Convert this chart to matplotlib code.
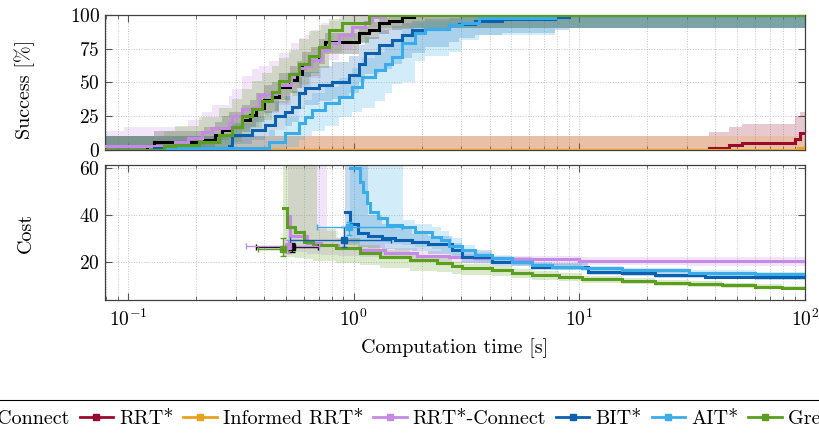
import numpy as np
import matplotlib
matplotlib.use("Agg")
import matplotlib.pyplot as plt
from matplotlib.lines import Line2D
from matplotlib.ticker import LogLocator

plt.rcParams['font.family'] = ['cmr10', 'DejaVu Serif']
plt.rcParams['mathtext.fontset'] = 'cm'
plt.rcParams['axes.formatter.use_mathtext'] = True
plt.rcParams['axes.unicode_minus'] = False

# ---------------- data ----------------
labels = ["RRT-Connect", "RRT*", "Informed RRT*", "RRT*-Connect", "BIT*", "AIT*", "Greedy RRT*"]
colors = ["#000000", "#990a2c", "#e8a21e", "#c48ae6", "#0b60b0", "#3aacea", "#5c9f1e"]
T_MAX = 100.0

# success [%]: times, median, lower and upper band
s_rrtc_t = [0.079, 0.121, 0.130, 0.218, 0.242, 0.260, 0.280, 0.319, 0.346, 0.371, 0.399, 0.433, 0.465, 0.520, 0.560, 0.588, 0.650, 0.700, 0.744, 1.052, 1.166, 1.290, 1.430, 1.630, 1.860]
s_rrtc_m = [0, 2.5, 6, 7, 11, 15, 17, 22, 26, 31, 37, 39, 47, 52, 56, 64, 67, 74, 80, 86.5, 89, 94, 96, 98.5, 100]
s_rrtc_h = [10, 10, 14, 17, 21, 25, 28, 33, 37, 42, 48, 50, 57, 62, 66, 73, 76, 82, 87, 92, 95, 98, 99, 100, 100]
s_rrtc_l = [0, 0, 1, 2, 4, 7, 9, 13, 17, 21, 27, 29, 37, 42, 46, 54, 57, 64, 71, 79, 82, 86, 89, 90, 90.5]

s_rrts_t = [0.079, 37.5, 46.0, 52.7, 90.3, 95.0]
s_rrts_m = [0, 1.7, 3.7, 5.4, 8, 12.3]
s_rrts_h = [10, 13.6, 17, 19.5, 25, 28]
s_rrts_l = [0, 0, 0, 0, 0, 0]

s_inf_t = [0.079, 93.0]
s_inf_m = [0, 1]
s_inf_h = [10, 10]
s_inf_l = [0, 0]

s_rsc_t = [0.079, 0.096, 0.161, 0.185, 0.212, 0.235, 0.280, 0.288, 0.319, 0.353, 0.379, 0.420, 0.465, 0.530, 0.570, 0.606, 0.650, 0.720, 0.774, 0.858, 0.980, 1.120, 1.200, 1.370]
s_rsc_m = [3, 3, 6, 9, 13, 16, 20, 25, 30, 31, 41, 42, 48, 57, 61, 62, 67, 74, 79, 85, 91, 95, 98.5, 100]
s_rsc_h = [14, 17, 17, 22, 28, 33, 40, 45, 55, 60, 62, 66, 72, 79, 83, 85, 89, 94, 96, 99, 100, 100, 100, 100]
s_rsc_l = [0, 0, 0, 1, 3, 5, 8, 12, 16, 17, 26, 27, 33, 42, 46, 47, 53, 61, 67, 74, 82, 87, 90, 90.5]

s_bit_t = [0.079, 0.131, 0.280, 0.288, 0.353, 0.403, 0.446, 0.494, 0.531, 0.570, 0.606, 0.700, 0.799, 0.950, 1.052, 1.119, 1.290, 1.474, 1.633, 1.808, 2.064, 2.637, 2.920, 3.440, 4.530, 7.790, 8.980]
s_bit_m = [0, 1.5, 3, 11, 15, 18.5, 25, 28, 32, 42, 45.7, 48, 50.6, 55.5, 64, 71.6, 77.8, 81.5, 85, 89, 90, 92.6, 93.8, 95.5, 97.5, 98.5, 100]
s_bit_h = [10, 10, 12, 20, 25, 29, 36, 40, 44, 54, 58, 62, 65, 70, 78, 84, 89, 92, 94, 96, 97, 98, 99, 100, 100, 100, 100]
s_bit_l = [0, 0, 0, 4, 7, 10, 15, 18, 21, 30, 33, 36, 38, 42, 50, 56, 60, 64, 68, 72, 76, 80, 83, 85, 87, 89, 90.5]

s_ait_t = [0.079, 0.145, 0.420, 0.494, 0.570, 0.606, 0.651, 0.744, 0.858, 0.980, 1.085, 1.239, 1.372, 1.474, 1.633, 1.865, 2.064, 2.637, 3.010, 3.580, 7.790]
s_ait_m = [0, 1.2, 5.5, 12.5, 20, 24.7, 29.6, 34.6, 39.5, 47, 54, 59, 64, 69, 79, 86.5, 90, 92.6, 94, 97.7, 100]
s_ait_h = [10, 10, 15, 24, 32, 37, 42, 47, 53, 61, 68, 73, 78, 82, 90, 94, 96, 97, 98, 99, 100]
s_ait_l = [0, 0, 0, 2, 7, 10, 14, 18, 24, 28, 31, 36, 42, 49, 50, 66, 70, 73, 81.5, 85, 90.5]

s_grd_t = [0.079, 0.145, 0.161, 0.206, 0.252, 0.288, 0.319, 0.353, 0.391, 0.433, 0.465, 0.515, 0.570, 0.631, 0.700, 0.774, 0.885, 1.166]
s_grd_m = [0, 2.5, 3.7, 6, 11, 17, 25, 30, 36, 43, 51, 56, 64, 70, 76, 89, 94, 100]
s_grd_h = [10, 14, 18, 24, 31, 38, 45, 51, 57, 62, 68, 74, 82, 88, 93, 97, 100, 100]
s_grd_l = [0, 0, 0, 0, 2, 6, 11, 16, 22, 28, 35, 40, 48, 55, 61, 72, 80, 90.5]

# cost: times, median, lower and upper band
c_rsc_t = [0.510, 0.525, 0.620, 0.720, 0.760, 0.850, 1.070, 1.370, 1.900, 2.640, 3.400, 5.000, 10.00, 30.00]
c_rsc_m = [39.7, 31.0, 28.0, 27.1, 27.1, 26.0, 25.0, 23.6, 22.6, 22.1, 21.5, 21.0, 20.5, 20.3]
c_rsc_h = [70, 70, 70, 70, 33, 30, 28, 26, 24.5, 23.5, 23, 22.5, 22, 22]
c_rsc_l = [24, 24, 23.5, 23, 23, 22.5, 22, 21, 20, 19.5, 19, 18.7, 18.5, 18.3]

c_bit_t = [0.915, 0.963, 1.049, 1.162, 1.330, 1.525, 1.808, 2.140, 2.720, 3.010, 4.090, 6.160, 10.90, 15.40, 21.60, 36.00, 60.10]
c_bit_m = [41.4, 36.0, 32.2, 31.0, 30.0, 29.3, 28.6, 27.6, 25.0, 22.1, 20.0, 17.9, 15.7, 15.0, 14.3, 13.6, 13.3]
c_bit_h = [70, 70, 70, 40, 36, 34, 32, 31, 28, 25, 22, 19.5, 17, 16.2, 15.5, 14.8, 14.5]
c_bit_l = [27, 27, 26.5, 26, 25.5, 25, 24.5, 23.5, 21.5, 19.5, 18, 16.3, 14.5, 13.8, 13.2, 12.6, 12.3]

c_ait_t = [0.963, 1.067, 1.104, 1.142, 1.181, 1.287, 1.400, 1.633, 1.660, 1.870, 2.220, 2.450, 2.640, 3.010, 3.440, 4.090, 5.010, 6.160, 7.550, 10.27, 15.40, 30.60, 60.10]
c_ait_m = [60.0, 54.3, 50.0, 45.0, 41.4, 38.6, 35.7, 35.0, 35.0, 32.8, 30.7, 29.3, 26.7, 25.0, 22.9, 21.4, 20.0, 18.6, 17.9, 17.2, 16.5, 15.3, 14.6]
c_ait_h = [70, 70, 70, 70, 70, 70, 70, 70, 38, 36, 35, 33, 30, 27, 24, 22.5, 21.2, 20, 19, 18.3, 17.5, 16.3, 15.5]
c_ait_l = [28, 28, 28, 28, 28, 28, 27.5, 27, 27, 26.5, 25.5, 24.5, 23, 21.8, 20.5, 19.3, 18.2, 17.2, 16.5, 15.9, 15.2, 14.1, 13.5]

c_grd_t = [0.488, 0.505, 0.551, 0.600, 0.660, 0.685, 0.838, 1.070, 1.310, 1.780, 2.340, 2.720, 3.010, 4.090, 5.010, 6.160, 8.100, 10.27, 15.40, 21.60, 30.60, 42.90, 60.10, 79.10]
c_grd_m = [42.9, 35.0, 32.8, 28.6, 27.2, 27.2, 25.7, 23.6, 22.1, 20.7, 19.3, 18.1, 17.2, 16.5, 15.3, 14.3, 13.6, 12.6, 11.9, 11.1, 10.5, 10.0, 9.3, 8.7]
c_grd_h = [70, 70, 70, 70, 70, 34, 30, 27, 25, 23, 21.5, 20, 19, 18, 17, 16, 15, 14, 13.2, 12.3, 11.7, 11.1, 10.4, 9.8]
c_grd_l = [22, 22, 21.5, 21, 20.5, 20.5, 19.5, 18.5, 17.5, 16, 15.5, 14.8, 14.2, 13.8, 13, 12.3, 11.7, 11, 10.5, 9.8, 9.3, 8.8, 8.2, 7.7]

# initial solutions: time median, time low, time high, cost median, cost low, cost high
init_names = ["RRT-Connect", "RRT*-Connect", "BIT*", "AIT*", "Greedy RRT*"]
init_t = [0.531, 0.510, 0.906, 0.957, 0.484]
init_t_lo = [0.371, 0.335, 0.520, 0.685, 0.378]
init_t_hi = [0.697, 0.700, 1.470, 1.630, 0.510]
init_c = [26.2, 26.9, 29.3, 34.7, 25.6]
init_c_lo = [24.3, 23.8, 26.3, 31.4, 22.4]
init_c_hi = [28.1, 29.3, 34.8, 37.1, 30.0]

success = {
    "RRT-Connect": (s_rrtc_t, s_rrtc_m, s_rrtc_l, s_rrtc_h),
    "RRT*": (s_rrts_t, s_rrts_m, s_rrts_l, s_rrts_h),
    "Informed RRT*": (s_inf_t, s_inf_m, s_inf_l, s_inf_h),
    "RRT*-Connect": (s_rsc_t, s_rsc_m, s_rsc_l, s_rsc_h),
    "BIT*": (s_bit_t, s_bit_m, s_bit_l, s_bit_h),
    "AIT*": (s_ait_t, s_ait_m, s_ait_l, s_ait_h),
    "Greedy RRT*": (s_grd_t, s_grd_m, s_grd_l, s_grd_h),
}
cost = {
    "RRT*-Connect": (c_rsc_t, c_rsc_m, c_rsc_l, c_rsc_h),
    "BIT*": (c_bit_t, c_bit_m, c_bit_l, c_bit_h),
    "AIT*": (c_ait_t, c_ait_m, c_ait_l, c_ait_h),
    "Greedy RRT*": (c_grd_t, c_grd_m, c_grd_l, c_grd_h),
}
col = dict(zip(labels, colors))

# ---------------- figure ----------------
fig = plt.figure(figsize=(8.19, 4.33), dpi=100)
ax1 = fig.add_axes([0.128, 0.654, 0.855, 0.311])
ax2 = fig.add_axes([0.128, 0.307, 0.855, 0.312], sharex=ax1)


def ext(t, *vals):
    t2 = np.append(np.asarray(t, float), T_MAX)
    return [t2] + [np.append(np.asarray(v, float), v[-1]) for v in vals]


band_alpha = 0.22
for i, name in enumerate(labels):
    t, m, lo, hi = success[name]
    tt, mm, ll, hh = ext(t, m, lo, hi)
    ax1.fill_between(tt, ll, hh, step='post', color=col[name], alpha=band_alpha, lw=0, zorder=1 + i * 0.01)
for i, name in enumerate(labels):
    t, m, lo, hi = success[name]
    tt, mm = ext(t, m)
    ax1.plot(tt, mm, drawstyle='steps-post', color=col[name], lw=2.2, zorder=3 + i * 0.01,
             solid_joinstyle='miter')

for i, name in enumerate(labels):
    if name not in cost:
        continue
    t, m, lo, hi = cost[name]
    tt, mm, ll, hh = ext(t, m, lo, hi)
    ax2.fill_between(tt, ll, hh, step='post', color=col[name], alpha=band_alpha, lw=0, zorder=1 + i * 0.01)
for i, name in enumerate(labels):
    if name not in cost:
        continue
    t, m, lo, hi = cost[name]
    tt, mm = ext(t, m)
    ax2.plot(tt, mm, drawstyle='steps-post', color=col[name], lw=2.2, zorder=3 + i * 0.01,
             solid_joinstyle='miter')

for j, name in enumerate(init_names):
    t, c = init_t[j], init_c[j]
    ax2.errorbar([t], [c],
                 xerr=[[t - init_t_lo[j]], [init_t_hi[j] - t]],
                 yerr=[[c - init_c_lo[j]], [init_c_hi[j] - c]],
                 fmt='s', ms=4, color=col[name], elinewidth=1.0, capsize=2, capthick=1.0,
                 zorder=5)

for ax in (ax1, ax2):
    ax.set_xscale('log')
    ax.set_xlim(0.079, 100)
    ax.xaxis.set_major_locator(LogLocator(base=10, numticks=10))
    ax.xaxis.set_minor_locator(LogLocator(base=10, subs=np.arange(2, 10), numticks=20))
    ax.tick_params(which='both', direction='in', top=True, right=True, color='#555555',
                   labelsize=14)
    ax.tick_params(which='major', length=5, width=0.8)
    ax.tick_params(which='minor', length=3, width=0.6)
    ax.grid(True, which='major', ls=':', lw=0.7, color='#c4c4c4', zorder=0)
    ax.grid(True, which='minor', axis='x', ls=':', lw=0.7, color='#c4c4c4', zorder=0)
    for sp in ax.spines.values():
        sp.set_color('#404040')
        sp.set_linewidth(0.9)
    ax.set_axisbelow(True)

ax1.set_ylim(0, 100)
ax1.set_yticks([0, 25, 50, 75, 100])
ax1.tick_params(axis='x', labelbottom=False)
ax1.set_ylabel("Success [%]", fontsize=14.5)
ax1.yaxis.set_label_coords(-0.1, 0.45)

ax2.set_ylim(3.6, 61.4)
ax2.set_yticks([20, 40, 60])
ax2.set_ylabel("Cost", fontsize=14.5)
ax2.yaxis.set_label_coords(-0.1, 0.5)
ax2.set_xlabel("Computation time [s]", fontsize=14.5, labelpad=6)
ax2.tick_params(axis='x', pad=6)

handles = [Line2D([], [], color=c, lw=2, marker='s', ms=4) for c in colors]
leg = fig.legend(handles, labels, loc='center', bbox_to_anchor=(0.5, 0.035), ncol=7,
                 frameon=True, fancybox=False, edgecolor='black', framealpha=1,
                 handlelength=1.65, handletextpad=0.3, columnspacing=0.5,
                 borderaxespad=0, fontsize=14.5, borderpad=0.4)
leg.get_frame().set_linewidth(0.8)

fig.savefig("out.png", dpi=100)
